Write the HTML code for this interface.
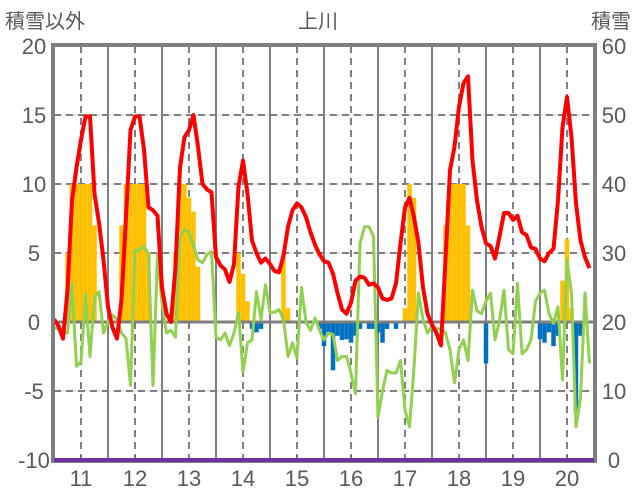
<!DOCTYPE html>
<html><head><meta charset="utf-8"><style>
body{margin:0;background:#fff;}
svg{display:block;font-family:"Liberation Sans","Noto Sans CJK JP",sans-serif;}
</style></head><body>
<svg id="chart" width="636" height="501" viewBox="0 0 636 501">
<text x="5" y="28" font-size="20" fill="#595959">積雪以外</text>
<text x="318" y="28" font-size="20" fill="#595959" text-anchor="middle">上川</text>
<text x="631" y="28" font-size="20" fill="#595959" text-anchor="end">積雪</text>
<g id="grid"></g><g id="bars"></g><g id="lines"></g><g id="frame"></g><g id="labels"></g>
</svg>
<script>
const leftTicks=[20,15,10,5,0,-5,-10];
const rightTicks=[60,50,40,30,20,10,0];
const yearLabels=["11","12","13","14","15","16","17","18","19","20"];
const redSeries=[0.2,-0.3,-1.2,2.3,8.8,11.2,13.2,14.9,14.9,9.3,7.2,4.5,1.1,-0.4,-1.2,1.6,7.6,13.9,14.9,14.9,12.5,8.3,8.1,7.7,2.5,0.6,0,4,11.2,13.4,13.9,15,12.7,10,9.6,9.4,4.7,4.1,3.8,2.9,4.2,9.8,11.7,9.3,5.9,5,4.3,4.6,4.2,3.7,3.6,4.8,6.9,8.1,8.6,8.3,7.6,6.5,5.6,4.9,4.4,4.3,3.5,2.1,0.9,0.6,1.4,3,3.3,3.2,2.7,2.8,2.5,1.7,1.6,1.7,2.8,5.7,8.3,9,7.6,5.7,2.5,0.6,-0.2,-0.8,-1.7,4.5,11,12.7,15.6,17.3,17.8,11.7,8.8,6.9,5.7,5.5,4.6,6.2,7.9,7.9,7.4,7.7,6.5,6.3,5.4,5.3,4.6,4.4,5,5.3,8.8,14.1,16.3,13.4,8.6,5.9,4.7,3.9];
const greenSeries=[-0.4,-0.5,-0.8,-0.8,2.8,-3.2,-2.9,2,-2.5,1.8,2.2,-0.8,0,0.5,0.2,-0.8,-1.2,-4.6,5.2,5.2,5.5,4.9,-4.6,4.9,1.4,-0.8,-0.6,-1.1,6.2,6.7,6.5,5.5,4.5,4.3,4.9,5.1,-1.1,-1.3,-0.8,-1.7,-0.8,0.7,-3.6,-1.5,-1.3,2.2,0.2,2.7,0.7,0.7,0.9,0.2,-2.5,-1.5,-2.6,2.5,0,-0.6,0.3,-0.6,-1.3,-0.8,-0.9,-2.8,-2.5,-2.5,-3.7,-5.2,5.7,6.9,6.9,6.2,-6.9,-5,-3.5,-3.7,-3.7,-2.8,-6.4,-7.6,-3.3,2.1,0.2,-0.8,-0.3,-0.5,-0.5,-0.8,-2,-4.4,-2,-1.3,-2.8,2.3,0.8,0.6,1.5,2.1,-1.3,0.1,2.3,-2,-2.3,2.8,-2.3,-2,-1.3,1.5,2.1,2.3,0.6,-0.1,1.1,-4.2,4.5,2.1,-7.6,-5.5,2.1,-3];
// snow depth bars, right-axis units (baseline 20)
const snowBars=[20,20,20,30,40,40,40,40,40,34,20,20,20,20,20,34,40,40,40,40,40,30,20,20,20,20,20,30,40,40,38,36,28,20,20,20,20,20,20,20,20,30,27,23,19,18.5,19,20,20,20,20,30,22,20,20,20,20,20,20,19,16.5,18.5,13,18,17.4,17.5,17,18,19,20,19,19,18.5,17,19,20,19,20,22,40,38,20,20,20,20,20,20,34,40,40,40,40,34,20,20,20,14,20,20,20,20,20,20,20,20,20,20,20,17.5,17,18.5,16.5,18,26,32,22,7,18,20,20];
const NS='http://www.w3.org/2000/svg';
const L=54,R=594,T=46,B=460;
const xOf=i=>L+4.5*i;
const yL=v=>T+(20-v)*(B-T)/30;
const yR=v=>B-v*(B-T)/60;
function mk(tag,attrs,parent){const e=document.createElementNS(NS,tag);for(const k in attrs)e.setAttribute(k,attrs[k]);parent.appendChild(e);return e;}
const grid=document.getElementById('grid'),bars=document.getElementById('bars'),lines=document.getElementById('lines'),frame=document.getElementById('frame'),labels=document.getElementById('labels');
leftTicks.forEach(v=>{
  const y=yL(v);
  if(v!==20&&v!==-10&&v!==0){
    const g=mk('line',{x1:L,x2:R,y1:y,y2:y,stroke:'#d9d9d9','stroke-width':1},grid);
    
    
    const d=mk('line',{x1:L,x2:R,y1:y,y2:y,stroke:'#7f7f7f','stroke-width':2,'stroke-dasharray':'7,5'},grid);
    
    
  }
  const t=mk('text',{x:34,y:y+8,'font-size':22,fill:'#595959','text-anchor':'middle'},labels);
  t.textContent=v;
  
  
});
rightTicks.forEach(v=>{
  const t=mk('text',{x:614,y:yR(v)+8,'font-size':22,fill:'#595959','text-anchor':'middle'},labels);
  t.textContent=v;
  
  
});
yearLabels.forEach((lab,k)=>{
  const xd=xOf(6+12*k);
  const d=mk('line',{x1:xd,x2:xd,y1:T,y2:B,stroke:'#7f7f7f','stroke-width':2,'stroke-dasharray':'7,5'},grid);
  
  
  const xs=xOf(12+12*k);
  if(xs<R-2){
    const s=mk('line',{x1:xs,x2:xs,y1:T,y2:B,stroke:'#7f7f7f','stroke-width':2},grid);
    
    
  }
  const t=mk('text',{x:xd,y:486,'font-size':22,fill:'#595959','text-anchor':'middle'},labels);
  t.textContent=lab;
  
  
});
snowBars.forEach((v,i)=>{
  if(v===20)return;
  const y0=yR(20),y1=yR(v);
  const r=mk('rect',{x:xOf(i)-2.25,width:4.5,y:Math.min(y0,y1),height:Math.abs(y1-y0),fill:v>20?'#ffc000':'#0070c0'},bars);
  
  
});
const zl=mk('line',{x1:L,x2:R,y1:yL(0),y2:yL(0),stroke:'#7f7f7f','stroke-width':3},bars);


const gp=mk('polyline',{points:greenSeries.map((v,i)=>xOf(i)+','+yL(v)).join(' '),fill:'none',stroke:'#92d050','stroke-width':3,'stroke-linejoin':'round'},lines);


const rp=mk('polyline',{points:redSeries.map((v,i)=>xOf(i)+','+yL(v)).join(' '),fill:'none',stroke:'#ff0000','stroke-width':4,'stroke-linejoin':'round'},lines);


const pb=mk('line',{x1:L,x2:R,y1:B,y2:B,stroke:'#7030a0','stroke-width':4},frame);


const fr=mk('rect',{x:L-1,y:T-1,width:R-L+2,height:B-T+2,fill:'none',stroke:'#7f7f7f','stroke-width':4},frame);


frame.appendChild(pb);
</script>
</body></html>
